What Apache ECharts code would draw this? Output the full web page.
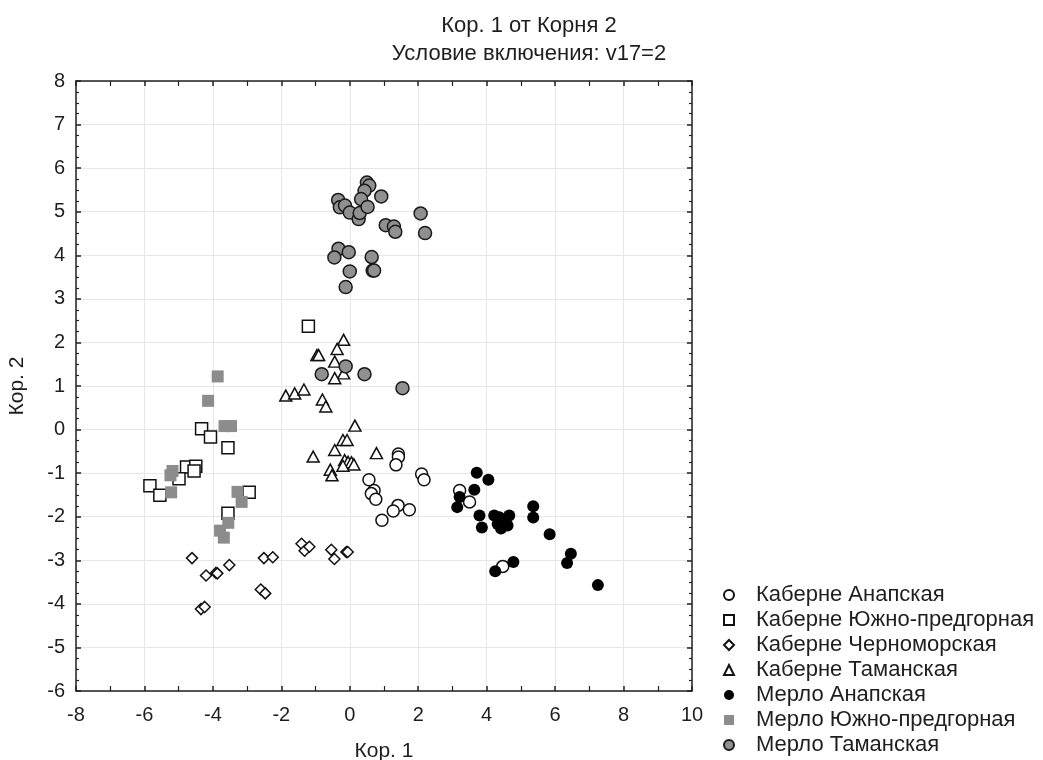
<!DOCTYPE html>
<html>
<head>
<meta charset="utf-8">
<script src="https://cdn.jsdelivr.net/npm/echarts@6/dist/echarts.min.js"></script>
<style>
  html, body { margin: 0; padding: 0; background: #fff; }
  #chart { width: 1043px; height: 760px; }
</style>
</head>
<body>
<div id="chart"></div>
<script>
// Canonical discriminant scores: root 1 (x) vs root 2 (y), per group
const groupNames = [
  'Каберне Анапская',
  'Каберне Южно-предгорная',
  'Каберне Черноморская',
  'Каберне Таманская',
  'Мерло Анапская',
  'Мерло Южно-предгорная',
  'Мерло Таманская'
];

const cabernetAnapa = [
  [1.42, -0.56], [1.42, -0.63], [1.35, -0.81], [2.10, -1.02], [2.17, -1.15],
  [0.56, -1.15], [0.71, -1.40], [0.63, -1.47], [0.76, -1.60], [1.41, -1.74],
  [1.27, -1.87], [1.74, -1.84], [0.94, -2.08], [3.21, -1.40], [3.50, -1.66],
  [4.47, -3.14]
];

const cabernetSouth = [
  [-1.21, 2.37], [-4.33, 0.02], [-4.07, -0.17], [-3.56, -0.42], [-4.77, -0.86],
  [-4.50, -0.84], [-4.55, -0.95], [-4.99, -1.13], [-5.84, -1.29], [-5.55, -1.51],
  [-2.94, -1.44], [-3.56, -1.92]
];

const cabernetBlackSea = [
  [-4.61, -2.95], [-4.20, -3.35], [-3.91, -3.29], [-3.87, -3.30], [-3.52, -3.11],
  [-4.35, -4.12], [-4.24, -4.07], [-2.60, -3.67], [-2.47, -3.76], [-2.51, -2.95],
  [-2.25, -2.93], [-1.41, -2.62], [-1.32, -2.78], [-1.18, -2.69], [-0.54, -2.76],
  [-0.45, -2.97], [-0.10, -2.81], [-0.06, -2.81]
];

const cabernetTaman = [
  [-0.18, 2.06], [-0.37, 1.85], [-0.96, 1.71], [-0.91, 1.71], [-0.44, 1.56],
  [-0.18, 1.29], [-0.44, 1.18], [-1.87, 0.78], [-1.61, 0.83], [-1.34, 0.92],
  [-0.80, 0.69], [-0.70, 0.53], [0.15, 0.09], [-0.20, -0.24], [-0.08, -0.24],
  [-0.44, -0.47], [-1.07, -0.62], [0.78, -0.54], [-0.15, -0.70], [-0.05, -0.74],
  [0.05, -0.75], [0.12, -0.80], [-0.20, -0.83], [-0.57, -0.92], [-0.52, -1.05]
];

const merlotAnapa = [
  [3.71, -0.99], [4.05, -1.15], [3.64, -1.38], [3.21, -1.55], [3.14, -1.78],
  [3.79, -1.97], [3.86, -2.25], [4.22, -1.97], [4.37, -2.01], [4.51, -2.08],
  [4.66, -1.97], [4.32, -2.17], [4.42, -2.27], [4.61, -2.20], [4.46, -2.13],
  [5.36, -1.76], [5.36, -2.02], [5.84, -2.40], [6.46, -2.85], [6.35, -3.06],
  [4.78, -3.04], [4.25, -3.25], [7.25, -3.57]
];

const merlotSouth = [
  [-3.86, 1.22], [-4.14, 0.66], [-3.66, 0.08], [-3.47, 0.08], [-5.18, -0.95],
  [-5.24, -1.05], [-5.22, -1.44], [-3.28, -1.43], [-3.16, -1.66], [-3.55, -2.14],
  [-3.79, -2.32], [-3.68, -2.48]
];

const merlotTaman = [
  [0.50, 5.67], [0.57, 5.60], [0.43, 5.48], [0.33, 5.29], [-0.34, 5.27],
  [-0.29, 5.10], [-0.14, 5.14], [0.00, 4.98], [0.26, 4.83], [0.29, 4.97],
  [0.52, 5.11], [0.92, 5.35], [1.05, 4.69], [1.29, 4.66], [1.33, 4.54],
  [2.07, 4.96], [2.20, 4.51], [-0.33, 4.15], [-0.45, 3.95], [-0.03, 4.07],
  [0.64, 3.96], [0.00, 3.63], [0.67, 3.65], [0.71, 3.65], [-0.12, 3.27],
  [-0.12, 1.45], [-0.82, 1.27], [0.43, 1.27], [1.54, 0.95]
];

const xTicks = { min: -8, max: 10, step: 2 };
const yTicks = { min: -6, max: 8, step: 1 };

const FONT = 'Liberation Sans, Arial, sans-serif';
const TEXT = '#1e1e1e';
const chart = echarts.init(document.getElementById('chart'), null, { renderer: 'canvas' });

const open = (color) => ({ color: '#ffffff', borderColor: color, borderWidth: 1.5, opacity: 1 });
const seriesDefs = [
  { data: cabernetAnapa, symbol: 'circle', size: 12, style: open('#111') },
  { data: cabernetSouth, symbol: 'rect', size: 12, style: open('#111') },
  { data: cabernetBlackSea, symbol: 'diamond', size: [11, 11], style: open('#111') },
  { data: cabernetTaman, symbol: 'triangle', size: [12, 11], style: open('#111') },
  { data: merlotAnapa, symbol: 'circle', size: 12, style: { color: '#000', borderWidth: 0, opacity: 1 } },
  { data: merlotSouth, symbol: 'rect', size: 12, style: { color: '#8c8c8c', borderWidth: 0, opacity: 1 } },
  { data: merlotTaman, symbol: 'circle', size: 13, style: { color: '#909090', borderColor: '#1a1a1a', borderWidth: 1.5, opacity: 1 } }
];

const legendIcons = ['circle', 'rect', 'diamond', 'triangle', 'circle', 'rect', 'circle'];

const axisCommon = {
  type: 'value',
  axisLine: { show: true, onZero: false, lineStyle: { color: '#222', width: 1.5 } },
  axisTick: { show: true, inside: true, length: 5, lineStyle: { color: '#222', width: 1.5 } },
  minorTick: { show: true, length: 3, lineStyle: { color: '#222', width: 1.2 } }
};

chart.setOption({
  animation: false,
  backgroundColor: '#ffffff',
  title: {
    text: 'Кор. 1 от Корня 2\nУсловие включения: v17=2',
    left: 524,
    top: 7,
    textAlign: 'center',
    textStyle: { fontFamily: FONT, fontSize: 22, fontWeight: 'normal', color: TEXT, lineHeight: 28 }
  },
  legend: {
    orient: 'vertical',
    left: 723,
    top: 583,
    height: 176,
    padding: 0,
    itemWidth: 10,
    itemHeight: 10,
    itemGap: 1,
    data: groupNames.map((n, i) => ({ name: n, icon: legendIcons[i] })),
    textStyle: { fontFamily: FONT, fontSize: 22, color: TEXT, lineHeight: 24, padding: [0, 0, 0, 17] }
  },
  grid: { left: 76, right: 351, top: 81, bottom: 69, outerBoundsMode: 'none', containLabel: false },
  xAxis: [
    Object.assign({}, axisCommon, {
      min: xTicks.min, max: xTicks.max, interval: xTicks.step,
      position: 'bottom',
      name: 'Кор. 1', nameLocation: 'middle', nameGap: 50,
      nameTextStyle: { fontFamily: FONT, fontSize: 21, color: TEXT },
      minorTick: Object.assign({}, axisCommon.minorTick, { splitNumber: 2, length: 5 }),
      axisLabel: { fontFamily: FONT, fontSize: 20, color: TEXT, margin: 14 },
      splitLine: { show: true, lineStyle: { color: '#e6e6e6', width: 1 } }
    }),
    Object.assign({}, axisCommon, {
      min: xTicks.min, max: xTicks.max, interval: xTicks.step,
      position: 'top',
      minorTick: Object.assign({}, axisCommon.minorTick, { splitNumber: 2, length: 5 }),
      axisLabel: { show: false },
      splitLine: { show: false }
    })
  ],
  yAxis: [
    Object.assign({}, axisCommon, {
      min: yTicks.min, max: yTicks.max, interval: yTicks.step,
      position: 'left',
      name: 'Кор. 2', nameLocation: 'middle', nameGap: 48, nameRotate: 90,
      nameTextStyle: { fontFamily: FONT, fontSize: 21, color: TEXT },
      minorTick: Object.assign({}, axisCommon.minorTick, { splitNumber: 4 }),
      axisLabel: { fontFamily: FONT, fontSize: 20, color: TEXT, margin: 11 },
      splitLine: { show: true, lineStyle: { color: '#e6e6e6', width: 1 } }
    }),
    Object.assign({}, axisCommon, {
      min: yTicks.min, max: yTicks.max, interval: yTicks.step,
      position: 'right',
      minorTick: Object.assign({}, axisCommon.minorTick, { splitNumber: 4 }),
      axisLabel: { show: false },
      splitLine: { show: false }
    })
  ],
  series: seriesDefs.map((d, i) => ({
    name: groupNames[i],
    type: 'scatter',
    xAxisIndex: 0,
    yAxisIndex: 0,
    symbol: d.symbol,
    symbolSize: d.size,
    itemStyle: d.style,
    data: d.data
  }))
});
</script>
</body>
</html>
